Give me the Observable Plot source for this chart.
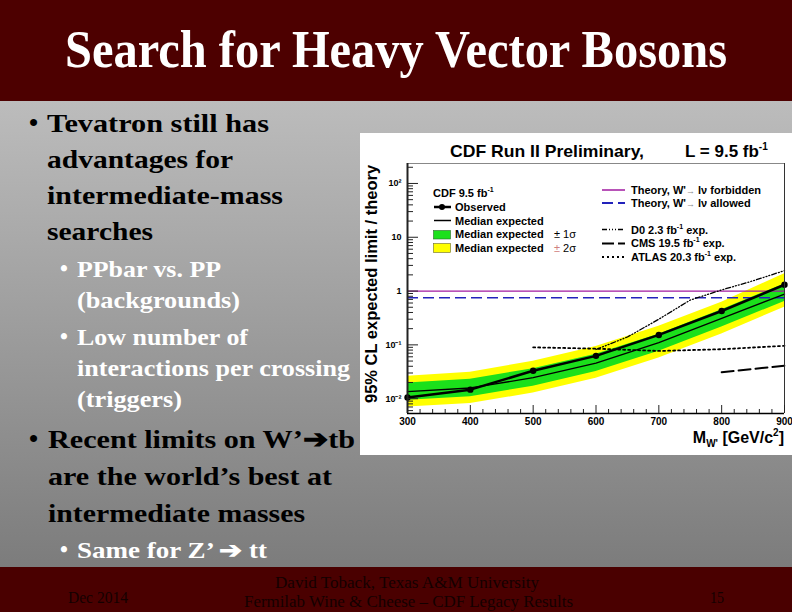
<!DOCTYPE html>
<html><head><meta charset="utf-8">
<script src="https://cdn.jsdelivr.net/npm/d3@7"></script>
<script src="https://cdn.jsdelivr.net/npm/@observablehq/plot@0.6"></script>
<style>
html,body{margin:0;padding:0;}
body{width:792px;height:612px;overflow:hidden;position:relative;background:#888;}
#bg,#overlay{position:absolute;left:0;top:0;}
#overlay{pointer-events:none;}
#chart{position:absolute;left:360px;top:133px;width:432px;height:322px;background:#fff;overflow:hidden;}
.serif{font-family:"Liberation Serif","Times New Roman",serif;font-weight:bold;}
.sans{font-family:"Liberation Sans",Arial,sans-serif;font-weight:bold;}
</style></head><body>
<svg id="bg" width="792" height="612">
  <defs><linearGradient id="g" x1="0" y1="0" x2="0" y2="1"><stop offset="0" stop-color="#bcbcbc"/><stop offset="1" stop-color="#7c7c7c"/></linearGradient></defs>
  <rect x="0" y="101" width="792" height="466" fill="url(#g)"/>
  <rect x="0" y="0" width="792" height="101" fill="#4d0000"/>
  <rect x="0" y="567" width="792" height="45" fill="#4a0000"/>
  <text class="serif" x="65" y="67" font-size="52" fill="#fff" textLength="662" lengthAdjust="spacingAndGlyphs">Search for Heavy Vector Bosons</text>

  <g class="serif" fill="#000" font-size="26">
    <text x="29" y="131">•</text>
    <text x="47" y="132" textLength="222" lengthAdjust="spacingAndGlyphs">Tevatron still has</text>
    <text x="47" y="168" textLength="186" lengthAdjust="spacingAndGlyphs">advantages for</text>
    <text x="47" y="204" textLength="236" lengthAdjust="spacingAndGlyphs">intermediate-mass</text>
    <text x="47" y="240" textLength="106" lengthAdjust="spacingAndGlyphs">searches</text>
    <text x="29" y="447">•</text>
    <text x="48" y="448" textLength="307" lengthAdjust="spacingAndGlyphs">Recent limits on W’➔tb</text>
    <text x="48" y="485" textLength="284" lengthAdjust="spacingAndGlyphs">are the world’s best at</text>
    <text x="48" y="522" textLength="257" lengthAdjust="spacingAndGlyphs">intermediate masses</text>
  </g>
  <g class="serif" fill="#fff" font-size="22.5">
    <text x="60" y="276">•</text>
    <text x="77" y="277" textLength="144" lengthAdjust="spacingAndGlyphs">PPbar vs. PP</text>
    <text x="77" y="308" textLength="163" lengthAdjust="spacingAndGlyphs">(backgrounds)</text>
    <text x="60" y="344">•</text>
    <text x="77" y="345" textLength="171" lengthAdjust="spacingAndGlyphs">Low number of</text>
    <text x="77" y="376" textLength="273" lengthAdjust="spacingAndGlyphs">interactions per crossing</text>
    <text x="77" y="407" textLength="105" lengthAdjust="spacingAndGlyphs">(triggers)</text>
    <text x="60" y="557">•</text>
    <text x="77" y="558" textLength="190" lengthAdjust="spacingAndGlyphs">Same for Z’ ➔ tt</text>
  </g>
  <g font-family="'Liberation Serif','Times New Roman',serif" font-size="16" fill="#140000">
    <text x="68" y="603" textLength="60" lengthAdjust="spacingAndGlyphs">Dec 2014</text>
    <text x="275" y="588" textLength="264" lengthAdjust="spacingAndGlyphs">David Toback, Texas A&amp;M University</text>
    <text x="244" y="607" textLength="329" lengthAdjust="spacingAndGlyphs">Fermilab Wine &amp; Cheese – CDF Legacy Results</text>
    <text x="710" y="603" textLength="14" lengthAdjust="spacingAndGlyphs">15</text>
  </g>
</svg>
<div id="chart"></div>
<svg id="overlay" width="792" height="612">
  <g class="sans" fill="#000">
    <text x="450" y="157" font-size="17" textLength="194" lengthAdjust="spacingAndGlyphs">CDF Run II Preliminary,</text>
    <text x="685" y="157" font-size="17">L = 9.5 fb<tspan font-size="10" dy="-7">-1</tspan></text>
    <text transform="translate(377,284) rotate(-90)" text-anchor="middle" font-size="16.5">95% CL expected limit / theory</text>
    <text x="784" y="443" text-anchor="end" font-size="16">M<tspan font-size="10" dy="4">W'</tspan><tspan dy="-4"> [GeV/c</tspan><tspan font-size="10" dy="-7">2</tspan><tspan dy="7">]</tspan></text>
  </g>
  <!-- left legend -->
  <g class="sans" font-size="11" fill="#000">
    <text x="433" y="197">CDF 9.5 fb<tspan font-size="7" dy="-5">-1</tspan></text>
    <line x1="434" x2="451" y1="207" y2="207" stroke="#000" stroke-width="2.5"/>
    <circle cx="442" cy="207" r="3" fill="#000"/>
    <text x="455" y="211">Observed</text>
    <line x1="434" x2="451" y1="220.5" y2="220.5" stroke="#000" stroke-width="1.5"/>
    <text x="455" y="224.5">Median expected</text>
    <rect x="433.5" y="230.5" width="17" height="8.5" fill="#1be01b" stroke="#2a6a2a" stroke-width="0.6"/>
    <text x="455" y="238">Median expected</text>
    <text x="554" y="238" font-weight="normal">± 1σ</text>
    <rect x="433.5" y="243.5" width="17" height="9" fill="#ffff00" stroke="#6a6a2a" stroke-width="0.6"/>
    <text x="455" y="251.5">Median expected</text>
    <text x="554" y="251.5" font-weight="normal"><tspan fill="#d08080">±</tspan> 2σ</text>
  </g>
  <!-- right legend -->
  <g class="sans" font-size="11" fill="#000">
    <line x1="602" x2="625" y1="190" y2="190" stroke="#a01aa0" stroke-width="1.5"/>
    <text x="631" y="193.5">Theory, W'<tspan fill="#888" font-size="9">→</tspan> lν forbidden</text>
    <line x1="602" x2="625" y1="203" y2="203" stroke="#2222bb" stroke-width="1.8" stroke-dasharray="11,5"/>
    <text x="631" y="207">Theory, W'<tspan fill="#888" font-size="9">→</tspan> lν allowed</text>
    <line x1="602" x2="625" y1="229.5" y2="229.5" stroke="#000" stroke-width="1.3" stroke-dasharray="5,2,1,2,1,2,1,2"/>
    <text x="631" y="233.5">D0 2.3 fb<tspan font-size="7" dy="-5">-1</tspan><tspan dy="5"> exp.</tspan></text>
    <line x1="602" x2="625" y1="243.5" y2="243.5" stroke="#000" stroke-width="2" stroke-dasharray="12,4"/>
    <text x="631" y="247.3">CMS 19.5 fb<tspan font-size="7" dy="-5">-1</tspan><tspan dy="5"> exp.</tspan></text>
    <line x1="602" x2="625" y1="257" y2="257" stroke="#000" stroke-width="1.8" stroke-dasharray="2,3"/>
    <text x="631" y="261">ATLAS 20.3 fb<tspan font-size="7" dy="-5">-1</tspan><tspan dy="5"> exp.</tspan></text>
  </g>
</svg>
<script>
// ---- data ----
const masses      = [300, 400, 500, 600, 700, 800, 900];
const observed    = [0.0105, 0.0147, 0.033, 0.0625, 0.153, 0.426, 1.31];
const median      = [0.0135, 0.0158, 0.0245, 0.046, 0.110, 0.31, 0.88];
const sigma1Low   = [0.0093, 0.0109, 0.0170, 0.032, 0.076, 0.215, 0.64];
const sigma1High  = [0.0195, 0.0230, 0.0360, 0.067, 0.157, 0.45, 1.36];
const sigma2Low   = [0.0070, 0.0081, 0.0127, 0.024, 0.057, 0.160, 0.50];
const sigma2High  = [0.0262, 0.0310, 0.0495, 0.093, 0.222, 0.62, 2.10];
const theoryForbidden = 1.0;
const theoryAllowed   = 0.75;
const d0Mass    = [600, 650, 700, 750, 800, 850, 900];
const d0Limit   = [0.082, 0.14, 0.30, 0.68, 1.05, 1.55, 2.40];
const atlasMass = [500, 600, 700, 800, 900];
const atlasLimit= [0.090, 0.085, 0.077, 0.083, 0.096];
const cmsMass   = [800, 900];
const cmsLimit  = [0.031, 0.041];
const xTicks = [300, 400, 500, 600, 700, 800, 900];
const yTicks = [0.01, 0.1, 1, 10, 100];
const yTickLabels = ["10⁻²", "10⁻¹", "1", "10", "10²"];

// ---- build tables ----
const table = masses.map((m, i) => ({mass: m, observed: observed[i], median: median[i],
  lo1: sigma1Low[i], hi1: sigma1High[i], lo2: sigma2Low[i], hi2: sigma2High[i]}));
const d0 = d0Mass.map((m, i) => ({mass: m, limit: d0Limit[i]}));
const atlas = atlasMass.map((m, i) => ({mass: m, limit: atlasLimit[i]}));
const cms = cmsMass.map((m, i) => ({mass: m, limit: cmsLimit[i]}));

const xDomain = [300, 900], yDomain = [0.0053, 235];
const W = 432, H = 322, mL = 47, mR = 8, mT = 30, mB = 42;
const fw = W - mL - mR, fh = H - mT - mB;

const yMinor = [];
for (const d of [0.001, 0.01, 0.1, 1, 10, 100]) for (let k = 2; k <= 9; k++) {
  const v = k * d; if (v >= yDomain[0] && v <= yDomain[1]) yMinor.push(v);
}
const xMinor = d3.range(300, 901, 20).filter(v => v % 100 !== 0);
const yLab = new Map(yTicks.map((t, i) => [t, yTickLabels[i]]));

const plot = Plot.plot({
  width: W, height: H, marginLeft: mL, marginRight: mR, marginTop: mT, marginBottom: mB,
  style: {background: "white", fontFamily: "'Liberation Sans', Arial, sans-serif", fontWeight: "bold", fontSize: "10px", color: "black"},
  x: {domain: xDomain, label: null},
  y: {type: "log", domain: yDomain, label: null},
  marks: [
    Plot.areaY(table, {x: "mass", y1: "lo2", y2: "hi2", fill: "#ffff00"}),
    Plot.areaY(table, {x: "mass", y1: "lo1", y2: "hi1", fill: "#1be01b"}),
    Plot.ruleY([theoryForbidden], {x1: xDomain[0], x2: xDomain[1], stroke: "#a01aa0", strokeWidth: 1.2}),
    Plot.ruleY([theoryAllowed], {x1: xDomain[0], x2: xDomain[1], stroke: "#2222bb", strokeWidth: 1.6, strokeDasharray: "11,5"}),
    Plot.line(atlas, {x: "mass", y: "limit", stroke: "#000", strokeWidth: 1.8, strokeDasharray: "2,3"}),
    Plot.line(d0, {x: "mass", y: "limit", stroke: "#000", strokeWidth: 1.3, strokeDasharray: "5,2,1,2,1,2,1,2"}),
    Plot.line(cms, {x: "mass", y: "limit", stroke: "#000", strokeWidth: 2, strokeDasharray: "12,5"}),
    Plot.line(table, {x: "mass", y: "median", stroke: "#000", strokeWidth: 1.3}),
    Plot.line(table, {x: "mass", y: "observed", stroke: "#000", strokeWidth: 2.5}),
    Plot.dot(table, {x: "mass", y: "observed", r: 3.2, fill: "#000"}),
    // frame
    Plot.ruleY([yDomain[1]], {stroke: "#888", strokeWidth: 1}),
    Plot.ruleX([xDomain[1]], {stroke: "#333", strokeWidth: 1}),
    Plot.ruleY([yDomain[0]], {stroke: "#000", strokeWidth: 1.5}),
    Plot.ruleX([xDomain[0]], {stroke: "#222", strokeWidth: 2}),
    // inward ticks
    Plot.ruleY(yTicks, {insetRight: fw - 11, stroke: "#222"}),
    Plot.ruleY(yMinor, {insetRight: fw - 6, stroke: "#222"}),
    Plot.ruleX(xTicks, {insetTop: fh - 8, stroke: "#222"}),
    Plot.ruleX(xMinor, {insetTop: fh - 4, stroke: "#222"}),
    Plot.axisY(yTicks, {tickSize: 0, tickPadding: 6, tickFormat: d => yLab.get(d), fontSize: 9, label: null}),
    Plot.axisX(xTicks, {tickSize: 0, tickPadding: 4, fontSize: 10, label: null})
  ]
});
document.getElementById("chart").appendChild(plot);
</script>
</body></html>
